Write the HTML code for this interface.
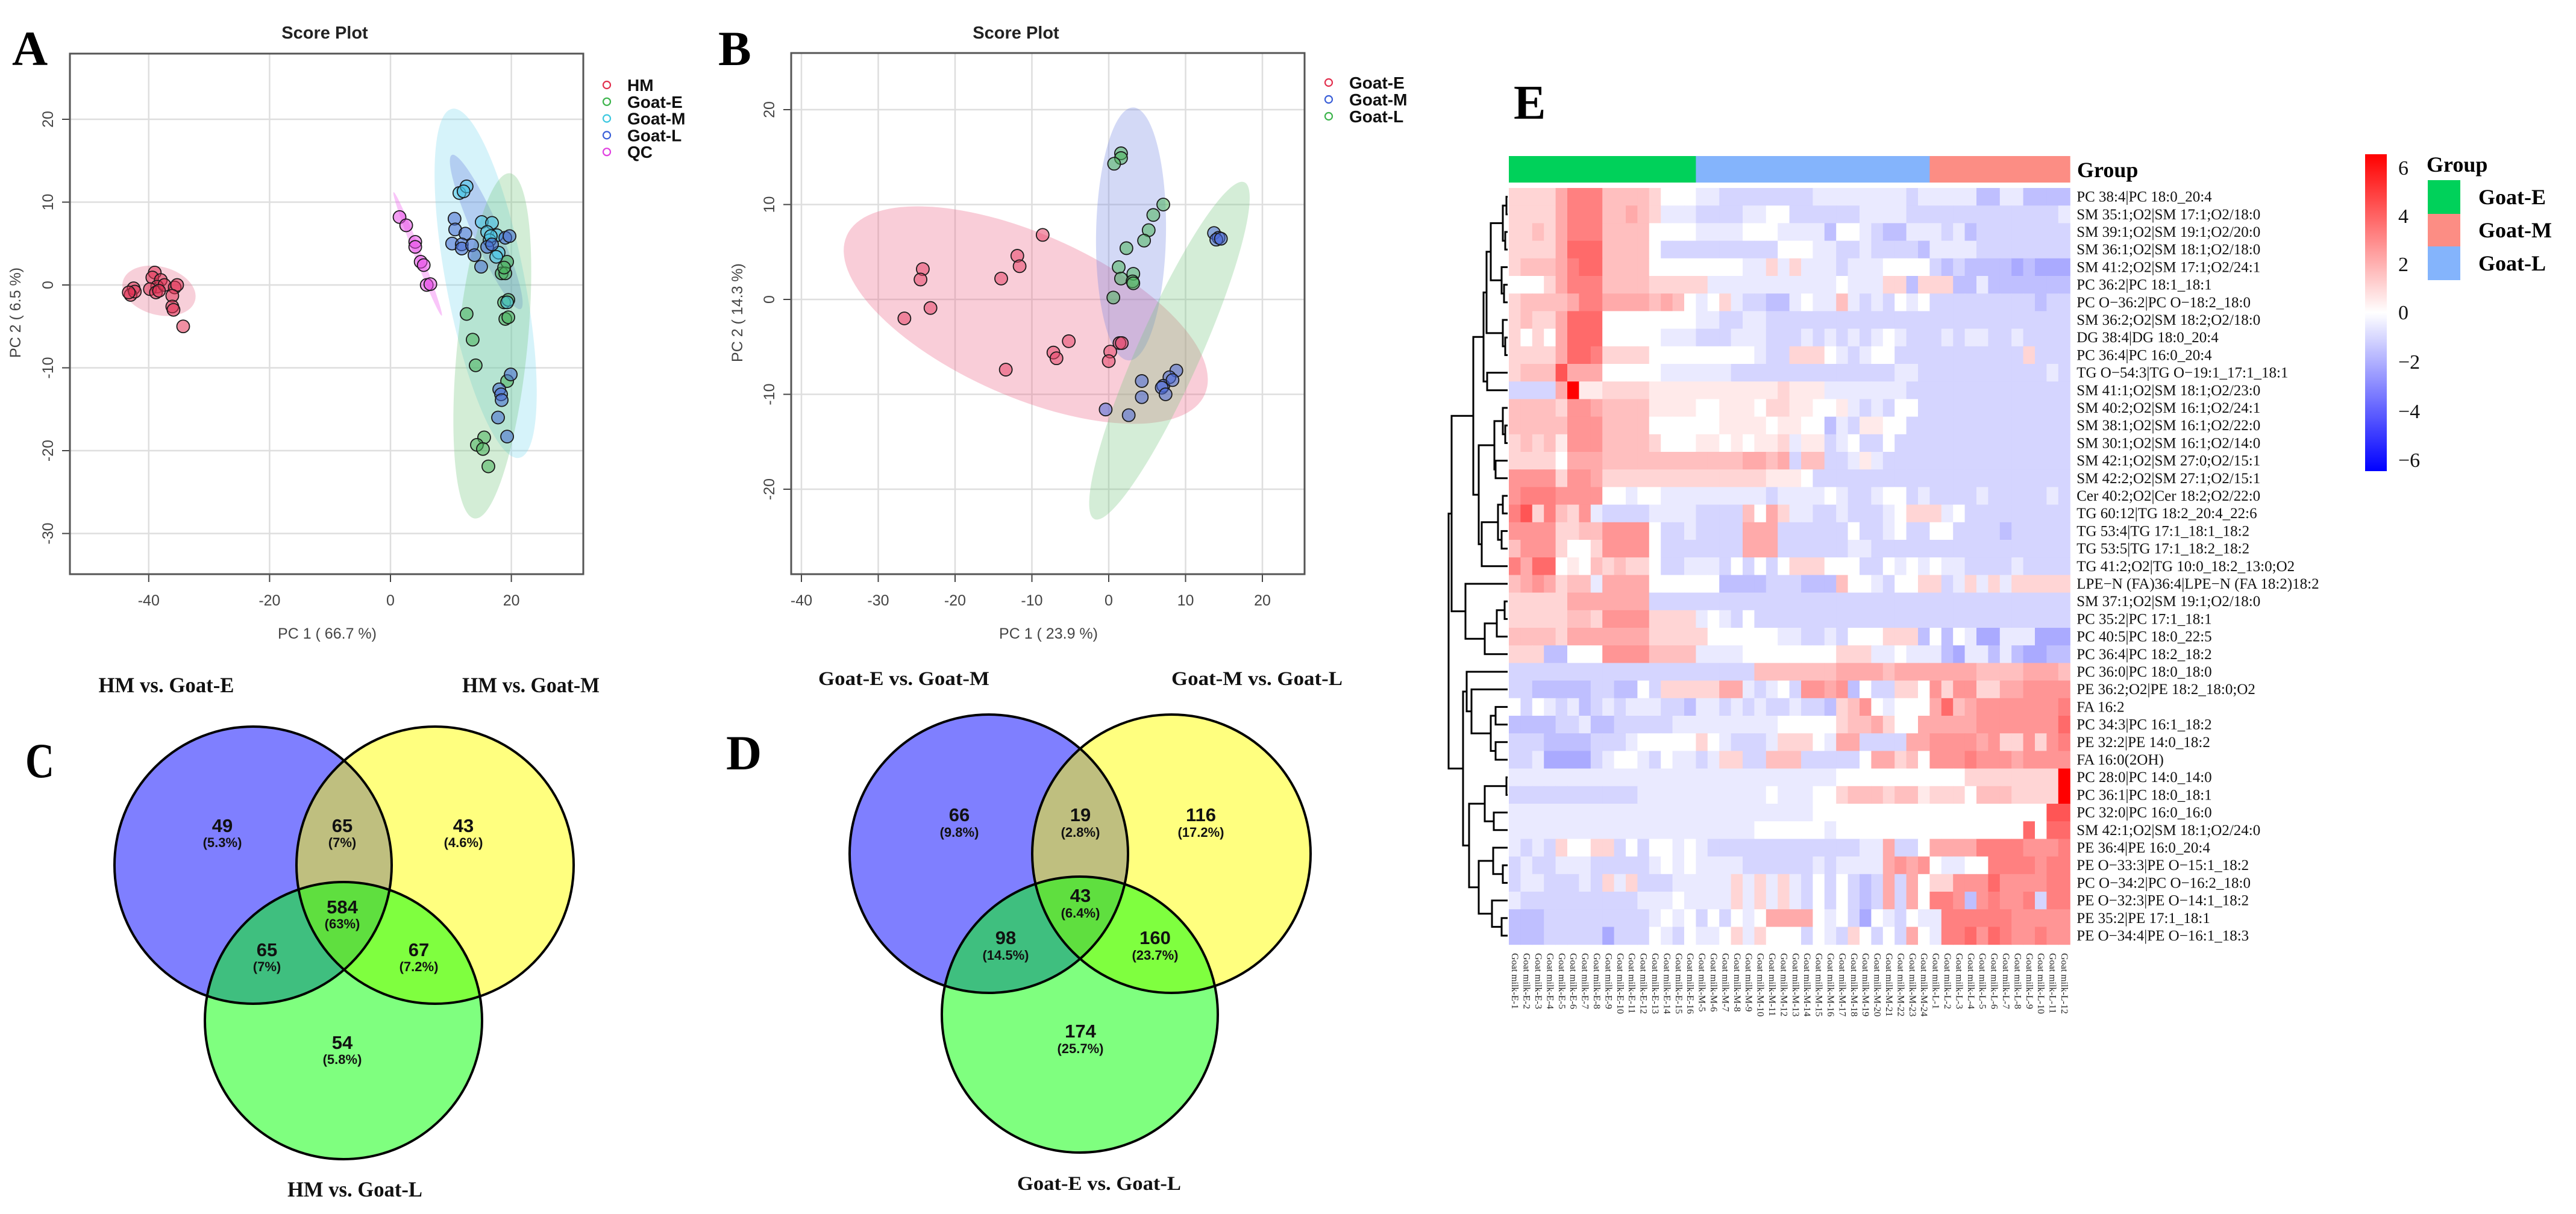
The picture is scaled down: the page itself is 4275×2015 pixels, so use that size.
<!DOCTYPE html>
<html><head><meta charset="utf-8"><style>
html,body{margin:0;padding:0;background:#fff;}
svg{display:block;font-family:"Liberation Sans",sans-serif;}
.serif{font-family:"Liberation Serif",serif;}
</style></head><body>
<svg id="fig" width="4275" height="2015" viewBox="0 0 4275 2015" xmlns="http://www.w3.org/2000/svg">
<defs>
<linearGradient id="cbar" x1="0" y1="0" x2="0" y2="1">
<stop offset="0" stop-color="#ff0000"/><stop offset="0.5" stop-color="#ffffff"/><stop offset="1" stop-color="#0000ff"/>
</linearGradient>
</defs>
<rect x="0" y="0" width="4275" height="2015" fill="#fff"/>
<!-- Panel letters -->
<text x="20" y="108" class="serif" font-size="82" font-weight="bold">A</text>
<text x="1192" y="108" class="serif" font-size="82" font-weight="bold">B</text>
<text x="42" y="1290" class="serif" font-size="82" font-weight="bold" textLength="48" lengthAdjust="spacingAndGlyphs">C</text>
<text x="1205" y="1277" class="serif" font-size="82" font-weight="bold">D</text>
<text x="2512" y="197" class="serif" font-size="80" font-weight="bold">E</text>
<!-- titles -->
<text x="539" y="64" font-size="29" font-weight="bold" text-anchor="middle" fill="#222">Score Plot</text>
<text x="1686" y="64" font-size="29" font-weight="bold" text-anchor="middle" fill="#222">Score Plot</text>
<text x="543" y="1060" font-size="25" text-anchor="middle" fill="#444">PC 1 ( 66.7 %)</text>
<text x="1740" y="1060" font-size="25" text-anchor="middle" fill="#444">PC 1 ( 23.9 %)</text>
<text x="0" y="0" font-size="25" text-anchor="middle" fill="#444" transform="translate(34,519) rotate(-90)">PC 2 ( 6.5 %)</text>
<text x="0" y="0" font-size="25" text-anchor="middle" fill="#444" transform="translate(1232,519) rotate(-90)">PC 2 ( 14.3 %)</text>
<g id="plotA"></g>
<g id="plotB"></g>

<!-- Venn C -->
<g>
<circle cx="420" cy="1436" r="230" fill="#0000ff" fill-opacity="0.5"/>
<circle cx="722" cy="1436" r="230" fill="#ffff00" fill-opacity="0.5"/>
<circle cx="570" cy="1694" r="230" fill="#00ff00" fill-opacity="0.5"/>
<g fill="none" stroke="#000" stroke-width="4">
<circle cx="420" cy="1436" r="230"/><circle cx="722" cy="1436" r="230"/><circle cx="570" cy="1694" r="230"/>
</g>
<g class="serif" font-size="36" font-weight="bold" text-anchor="middle" fill="#111">
<text x="276" y="1149" textLength="225" lengthAdjust="spacingAndGlyphs">HM vs. Goat-E</text>
<text x="881" y="1149" textLength="228" lengthAdjust="spacingAndGlyphs">HM vs. Goat-M</text>
<text x="589" y="1986" textLength="224" lengthAdjust="spacingAndGlyphs">HM vs. Goat-L</text>
</g>
<g font-weight="bold" text-anchor="middle" fill="#111">
<g font-size="31"><text x="369" y="1381">49</text><text x="568" y="1381">65</text><text x="769" y="1381">43</text><text x="568" y="1516">584</text><text x="443" y="1587">65</text><text x="695" y="1587">67</text><text x="568" y="1741">54</text></g>
<g font-size="22"><text x="369" y="1406">(5.3%)</text><text x="568" y="1406">(7%)</text><text x="769" y="1406">(4.6%)</text><text x="568" y="1541">(63%)</text><text x="443" y="1612">(7%)</text><text x="695" y="1612">(7.2%)</text><text x="568" y="1766">(5.8%)</text></g>
</g>
</g>

<!-- Venn D -->
<g>
<circle cx="1641" cy="1417" r="231" fill="#0000ff" fill-opacity="0.5"/>
<circle cx="1944" cy="1417" r="231" fill="#ffff00" fill-opacity="0.5"/>
<circle cx="1792" cy="1684" r="229" fill="#00ff00" fill-opacity="0.5"/>
<g fill="none" stroke="#000" stroke-width="4">
<circle cx="1641" cy="1417" r="231"/><circle cx="1944" cy="1417" r="231"/><circle cx="1792" cy="1684" r="229"/>
</g>
<g class="serif" font-size="33" font-weight="bold" text-anchor="middle" fill="#111">
<text x="1500" y="1137" textLength="284" lengthAdjust="spacingAndGlyphs">Goat-E vs. Goat-M</text>
<text x="2086" y="1137" textLength="284" lengthAdjust="spacingAndGlyphs">Goat-M vs. Goat-L</text>
<text x="1824" y="1975" textLength="272" lengthAdjust="spacingAndGlyphs">Goat-E vs. Goat-L</text>
</g>
<g font-weight="bold" text-anchor="middle" fill="#111">
<g font-size="31"><text x="1592" y="1363">66</text><text x="1793" y="1363">19</text><text x="1993" y="1363">116</text><text x="1793" y="1497">43</text><text x="1669" y="1567">98</text><text x="1917" y="1567">160</text><text x="1793" y="1722">174</text></g>
<g font-size="22"><text x="1592" y="1389">(9.8%)</text><text x="1793" y="1389">(2.8%)</text><text x="1993" y="1389">(17.2%)</text><text x="1793" y="1523">(6.4%)</text><text x="1669" y="1593">(14.5%)</text><text x="1917" y="1593">(23.7%)</text><text x="1793" y="1748">(25.7%)</text></g>
</g>
</g>

<g id="heat"></g>

<!-- color bar legend -->
<rect x="3925" y="256" width="36" height="526" fill="url(#cbar)"/>
<g class="serif" font-size="34" fill="#111">
<text x="3980" y="290">6</text><text x="3980" y="370">4</text><text x="3980" y="450">2</text><text x="3980" y="530">0</text><text x="3980" y="612">−2</text><text x="3980" y="694">−4</text><text x="3980" y="775">−6</text>
</g>
<text x="4027" y="285" class="serif" font-size="36" font-weight="bold">Group</text>
<rect x="4029" y="299" width="54" height="56" fill="#00d15a"/>
<rect x="4029" y="355" width="54" height="54" fill="#fc8d84"/>
<rect x="4029" y="409" width="54" height="56" fill="#84b4fc"/>
<g class="serif" font-size="36" font-weight="bold">
<text x="4113" y="339">Goat-E</text>
<text x="4113" y="394">Goat-M</text>
<text x="4113" y="449">Goat-L</text>
</g>
<text x="3447" y="294" class="serif" font-size="36" font-weight="bold">Group</text>
</svg>
<script>
// ===== Panel A data (PC1, PC2) =====
const aHM_x = [-39.0,-39.4,-38.0,-38.6,-39.8,-38.8,-37.4,-35.7,-35.3,-42.5,-43.0,-42.3,-36.1,-36.1,-35.9,-34.3,-38.3,-43.3];
const aHM_y = [1.5,0.9,0.6,-0.2,-0.5,-0.9,0,-0.3,0,-0.4,-1.2,-0.8,-1.3,-2.6,-3.0,-5.0,-0.7,-0.9];
const aQC_x = [1.5,2.6,4.1,4.1,5.0,5.5,6.0,6.6];
const aQC_y = [8.2,7.2,5.2,4.6,2.8,2.4,0,0.1];
const aE_x = [12.6,13.6,14.1,19.0,19.5,18.8,19.3,18.4,19.0,19.3,15.5,14.3,15.3,16.2,19.5,18.8];
const aE_y = [-3.5,-6.6,-9.7,-4.1,-3.9,-2.1,2.8,1.4,1.4,-11.6,-18.4,-19.3,-19.8,-21.9,-1.8,2.1];
const aM_x = [11.4,12.6,12.1,15.1,16.8,16.0,17.6,16.4,17.9,17.5,19.3,16.6];
const aM_y = [11.1,11.9,11.3,7.6,7.5,6.4,6.0,5.4,3.9,3.4,-2.1,5.9];
const aL_x = [10.6,10.7,12.4,10.2,11.8,11.8,13.5,13.9,15.0,16.0,16.8,19.0,19.7,19.9,18.0,18.3,18.4,17.8,19.3];
const aL_y = [8.0,6.7,6.2,5.0,4.9,4.4,4.8,3.6,2.2,4.6,4.9,5.7,5.9,-10.8,-12.6,-13.2,-13.9,-16.0,-18.3];
const aXTicks = [-40,-20,0,20];
const aYTicks = [-30,-20,-10,0,10,20];
// ===== Panel B data =====
const bE_x = [-24.2,-24.5,-23.2,-26.6,-14.0,-11.9,-11.6,-8.6,-5.2,-7.2,-6.8,-13.4,0.2,0,1.4,1.7];
const bE_y = [3.2,2.1,-0.9,-2.0,2.2,4.6,3.5,6.8,-4.4,-5.6,-6.2,-7.4,-5.5,-6.5,-4.6,-4.6];
const bM_x = [13.7,14.3,14.0,14.6,8.8,7.9,7.1,6.9,7.4,8.3,4.3,4.3,-0.4,2.6];
const bM_y = [7.0,6.5,6.3,6.4,-7.5,-8.2,-9.1,-9.3,-10.0,-8.5,-8.6,-10.3,-11.6,-12.2];
const bL_x = [1.6,1.6,0.7,7.1,5.8,5.2,4.6,2.3,1.3,1.6,3.2,3.1,3.2,0.6];
const bL_y = [15.4,14.9,14.3,10.0,8.9,7.3,6.2,5.4,3.4,2.2,2.7,1.9,1.7,0.2];
const bXTicks = [-40,-30,-20,-10,0,10,20];
const bYTicks = [-20,-10,0,10,20];

const NS = "http://www.w3.org/2000/svg";
function mk(tag, attrs, parent){ const e=document.createElementNS(NS,tag); for(const k in attrs) e.setAttribute(k,attrs[k]); parent.appendChild(e); return e; }

function scorePlot(g, box, sx, sy, xt, yt, ellipses, groups, legend){
  for(const t of xt){
    const l=mk('line',{x1:sx(t),x2:sx(t),y1:box.t,y2:box.b,stroke:'#dedede','stroke-width':2.5},g);
    
    
    const tk=mk('line',{x1:sx(t),x2:sx(t),y1:box.b,y2:box.b+13,stroke:'#444','stroke-width':2},g);
    
    
    const tx=mk('text',{x:sx(t),y:box.b+52,'text-anchor':'middle','font-size':25,fill:'#444'},g);
    tx.textContent=t;
    
    
  }
  for(const t of yt){
    const l=mk('line',{x1:box.l,x2:box.r,y1:sy(t),y2:sy(t),stroke:'#dedede','stroke-width':2.5},g);
    
    
    const tk=mk('line',{x1:box.l-13,x2:box.l,y1:sy(t),y2:sy(t),stroke:'#444','stroke-width':2},g);
    
    
    const tx=mk('text',{x:0,y:0,'text-anchor':'middle','font-size':25,fill:'#444',transform:`translate(${box.l-28},${sy(t)}) rotate(-90)`},g);
    tx.textContent=t;
    
    
  }
  for(const e of ellipses){
    const el=mk('ellipse',{cx:0,cy:0,rx:e.rx,ry:e.ry,fill:e.fill,transform:`translate(${sx(e.cx)},${sy(e.cy)}) rotate(${e.rot})`},g);
    
    
  }
  for(const gr of groups){
    for(let i=0;i<gr.x.length;i++){
      const c=mk('circle',{cx:sx(gr.x[i]),cy:sy(gr.y[i]),r:10.5,fill:gr.col,'fill-opacity':0.55,stroke:'#1a1a1a','stroke-width':1.8},g);
      
      
    }
  }
  const bx=mk('rect',{x:box.l,y:box.t,width:box.r-box.l,height:box.b-box.t,fill:'none',stroke:'#555','stroke-width':3},g);
  
  
  legend.items.forEach((it,i)=>{
    const y=legend.y+i*legend.dy;
    const c=mk('circle',{cx:legend.x,cy:y,r:6,fill:'none',stroke:it.col,'stroke-width':2.2},g);
    
    
    const t=mk('text',{x:legend.x+34,y:y+10,'font-size':28,'font-weight':'bold',fill:'#111'},g);
    t.textContent=it.label;
    
    
  });
}
const axA=x=>648+x*10.03, ayA=y=>473-y*13.75;
scorePlot(document.getElementById('plotA'),{l:116,t:89,r:968,b:953},axA,ayA,aXTicks,aYTicks,[
  {name:'hm',cx:-38.3,cy:-0.7,rx:62,ry:40,rot:15,fill:'rgba(232,110,140,0.33)'},
  {name:'qc',cx:4.5,cy:3.75,rx:110,ry:6,rot:68.7,fill:'rgba(240,110,240,0.4)'},
  {name:'goat-m',cx:15.75,cy:0.2,rx:65,ry:295,rot:-10.9,fill:'rgba(120,215,240,0.3)'},
  {name:'goat-l',cx:15.85,cy:6.4,rx:22,ry:140,rot:-24,fill:'rgba(90,110,220,0.28)'},
  {name:'goat-e',cx:16.85,cy:-7.35,rx:58,ry:288,rot:5.8,fill:'rgba(110,195,120,0.3)'}
],[
  {name:'hm',x:aHM_x,y:aHM_y,col:'#e23356'},
  {name:'qc',x:aQC_x,y:aQC_y,col:'#e84fe8'},
  {name:'goat-e',x:aE_x,y:aE_y,col:'#47b059'},
  {name:'goat-m',x:aM_x,y:aM_y,col:'#48c6e8'},
  {name:'goat-l',x:aL_x,y:aL_y,col:'#4468d0'}
],{x:1007,y:141,dy:27.8,items:[
  {name:'hm',label:'HM',col:'#e2304e'},{name:'goat-e',label:'Goat-E',col:'#3cb44b'},
  {name:'goat-m',label:'Goat-M',col:'#3cc8e0'},{name:'goat-l',label:'Goat-L',col:'#3a5fd8'},
  {name:'qc',label:'QC',col:'#e040e0'}]});

const axB=x=>1840+x*12.75, ayB=y=>497-y*15.75;
scorePlot(document.getElementById('plotB'),{l:1313,t:88,r:2165,b:953},axB,ayB,bXTicks,bYTicks,[
  {name:'goat-e',cx:-10.8,cy:-1.65,rx:325,ry:135,rot:23.9,fill:'rgba(235,100,135,0.32)'},
  {name:'goat-m',cx:2.9,cy:6.9,rx:58,ry:210,rot:1,fill:'rgba(110,130,225,0.3)'},
  {name:'goat-l',cx:7.9,cy:-5.4,rx:52,ry:306,rot:24,fill:'rgba(120,200,130,0.32)'}
],[
  {name:'goat-e',x:bE_x,y:bE_y,col:'#e8466a'},
  {name:'goat-m',x:bM_x,y:bM_y,col:'#4a6ad8'},
  {name:'goat-l',x:bL_x,y:bL_y,col:'#4cb45c'}
],{x:2205,y:137,dy:28,items:[
  {name:'goat-e',label:'Goat-E',col:'#e2304e'},{name:'goat-m',label:'Goat-M',col:'#3a5fd8'},{name:'goat-l',label:'Goat-L',col:'#3cb44b'}]});

// ===== Heatmap data =====
// value code: a=-3 b=-2.5 c=-2 d=-1.5 e=-1 f=-0.5 0=0 1=0.5 2=1 3=1.5 4=2 5=2.5 6=3 7=3.5 8=4 9=6
const heatRowLabels = ["PC 38:4|PC 18:0_20:4","SM 35:1;O2|SM 17:1;O2/18:0","SM 39:1;O2|SM 19:1;O2/20:0","SM 36:1;O2|SM 18:1;O2/18:0","SM 41:2;O2|SM 17:1;O2/24:1","PC 36:2|PC 18:1_18:1","PC O−36:2|PC O−18:2_18:0","SM 36:2;O2|SM 18:2;O2/18:0","DG 38:4|DG 18:0_20:4","PC 36:4|PC 16:0_20:4","TG O−54:3|TG O−19:1_17:1_18:1","SM 41:1;O2|SM 18:1;O2/23:0","SM 40:2;O2|SM 16:1;O2/24:1","SM 38:1;O2|SM 16:1;O2/22:0","SM 30:1;O2|SM 16:1;O2/14:0","SM 42:1;O2|SM 27:0;O2/15:1","SM 42:2;O2|SM 27:1;O2/15:1","Cer 40:2;O2|Cer 18:2;O2/22:0","TG 60:12|TG 18:2_20:4_22:6","TG 53:4|TG 17:1_18:1_18:2","TG 53:5|TG 17:1_18:2_18:2","TG 41:2;O2|TG 10:0_18:2_13:0;O2","LPE−N (FA)36:4|LPE−N (FA 18:2)18:2","SM 37:1;O2|SM 19:1;O2/18:0","PC 35:2|PC 17:1_18:1","PC 40:5|PC 18:0_22:5","PC 36:4|PC 18:2_18:2","PC 36:0|PC 18:0_18:0","PE 36:2;O2|PE 18:2_18:0;O2","FA 16:2","PC 34:3|PC 16:1_18:2","PE 32:2|PE 14:0_18:2","FA 16:0(2OH)","PC 28:0|PC 14:0_14:0","PC 36:1|PC 18:0_18:1","PC 32:0|PC 16:0_16:0","SM 42:1;O2|SM 18:1;O2/24:0","PE 36:4|PE 16:0_20:4","PE O−33:3|PE O−15:1_18:2","PC O−34:2|PC O−16:2_18:0","PE O−32:3|PE O−14:1_18:2","PE 35:2|PE 17:1_18:1","PE O−34:4|PE O−16:1_18:3"];
const heatGroupE = ["2222466633332000","2222466633432fff","2232466633330000","2222477733330eee","2333467733330000","0002466633332222","2333346644443430","2322477700000000","2020477700000fff","2222477622220000","2333844400000fff","eeee491122221111","3333255433331111","3333355533330000","2323155533332000","2222044433333333","5555255422222222","5666555500f00fff","6826325feeeeffff","5555223355550eef","3555200255550eee","6477010323220eef","3454233f44440000","222224444444eeee","2222233255552222","3333244444442222","222dd00055553333","eeeeeeeeeeeeeeee","eedddddeedd0e222","0e0fefdefefffeed","ddddeefddeeeeeff","eeeddddeeef00000","eefccccef00fe0ff","ffffffffffffffff","eeeeeeeeeeefffff","ffffffffffffffff","ffffffffffffffff","fefe20022e0e00f0","efeefffeeeeef0f0","effeeefe2f2eeeff","feeeeeeeeeefff0f","dddeeeeeeeeef0f0","dddeeeeeceee0fe0"];
const heatGroupM = ["ffeeeeeeeeffffffffef","eeeeff00eeeeeeffffee","ffff000ffffd00feddff","eeeeeee000ffeefeeeed","0000ff2f2fffefff0000","2fffffffffff0fff22d2","f02feeddf0ff3fefe0f0","ffeeffeeeeeeeeeeeeee","eeefffeeefefefef0fee","00000fee2220fef00eee","fffeeeeeeeeeeeeeeffe","11111112111fffffffee","0011102211001fefe00e","00111101100dfe1100ee","11010112f11ef0ee0eee","33334434e33eef1feeee","2222221110eeeeeeeeee","ffffffeffff0feef00ef","eeee3042ffeefeeef022","eeee444eeeeee0eef0ee","eeee444eeeeeeffeeeee","ffe0e0e0222000ee0f0f","00ddddeeeddd300fe002","eeeeeeeeeeeeeeeeeeee","f0fe0eeeeeeeeeeeeeee","2000000ffeefe000222d","ffff00000000222ff0ff","eeeee333333344443444","2244fef0e5545d0ee220","ffefefeefeed2350f000","fffffff0000023342004","20feeef2220f44eeee44","ef22ee333eeeee044230","ffffffffffff00000000","ffffff0fff0023332331","ffffffffff0000000000","fffff000000f00000000","feeeeeeeeeeeeeff4ee0","ffffeeeeeefeffff4545","fff2f2f2fe0e0ede4e40","fff2f2f2fe0e0ede4e40","e0e0f044440f0ec0fe0f","ff02f2000e0fe20e0e40"];
const heatGroupL = ["ffffddffdddd","eeeeeeeeeeef","fefdeeeeeeee","ffffeeeeeeee","ededdddcdccc","22ddfddddddd","eeeeeeeeedee","eeeeeeeeeeee","efeffeefeeee","eeeeeeee2eee","eeeeeeeeeefe","eeeeeeeeeeee","eeeeeeeeeeee","eeeeeeeeeeee","eeeeeeeeeeee","eeeeeeeeeeee","eeeeeeeeeeee","eeeefeeeeefe","2f0eeeeeeeee","00eeeedeeeee","eeeeeeeeeeee","0ffeeeefeeee","2ef2f2f22222","eeeeeeeeeeee","eeeeeeeeeeee","0d0fccfffccc","fdcffdfdccdd","444433334443","525522445555","473455555556","444455555557","555545225256","555655545555","000222222229","222033322229","000000000088","000000007077","444466665556","0ff006666566","225557555566","665d56556e66","f66666655555","f66757655655"];
const heatColLabels = [];
for(let i=1;i<=16;i++) heatColLabels.push('Goat milk-E-'+i);
for(let i=5;i<=24;i++) heatColLabels.push('Goat milk-M-'+i);
for(let i=1;i<=12;i++) heatColLabels.push('Goat milk-L-'+i);
const heatGroupCounts = [16,20,12];
const heatGroupColors = ['#00d15a','#84b4fc','#fc8d84'];
const codeMap = {a:-3,b:-2.5,c:-2,d:-1.5,e:-1,f:-0.5,'0':0,'1':0.5,'2':1,'3':1.5,'4':2,'5':2.5,'6':3,'7':3.5,'8':4,'9':6};
// dendrogram: heights in px left of heatmap
const dendroTree = {h:100,c:[
 {h:95,c:[
  {h:59,c:[
   {h:42,c:[{h:37,c:[{h:30,c:[{h:10,c:[{h:4,c:[0,1]},{h:6,c:[2,3]}]},{h:12,c:[4,{h:8,c:[5,6]}]}]},{h:10,c:[7,{h:6,c:[8,9]}]}]},{h:36,c:[10,11]}]},
   {h:50,c:[{h:24,c:[{h:10,c:[12,{h:6,c:[13,14]}]},{h:22,c:[15,16]}]},{h:45,c:[{h:18,c:[{h:10,c:[17,18]},{h:12,c:[19,20]}]},21]}]}
  ]},
  {h:72,c:[22,{h:40,c:[{h:20,c:[{h:7,c:[23,24]},25]},26]}]}
 ]},
 {h:76,c:[
  {h:70,c:[27,{h:62,c:[28,{h:30,c:[{h:22,c:[29,30]},{h:22,c:[31,32]}]}]}]},
  {h:66,c:[{h:40,c:[{h:4,c:[33,34]},{h:25,c:[35,36]}]},{h:50,c:[{h:26,c:[37,{h:10,c:[38,39]}]},{h:28,c:[40,{h:12,c:[41,42]}]}]}]}
 ]}
]};

(function(){
  const g=document.getElementById('heat');
  const X0=2504, Y0=312, CW=19.4, RH=29.2;
  const colX=i=>X0+i*CW, rowY=r=>Y0+r*RH;
  function color(v){
    const t=Math.min(1,Math.abs(v)/6);
    const k=Math.round(255*(1-t));
    return v>=0?`rgb(255,${k},${k})`:`rgb(${k},${k},255)`;
  }
  // group bar
  let c0=0;
  heatGroupCounts.forEach((n,gi)=>{
    const r=mk('rect',{x:colX(c0),y:259,width:n*CW+0.5,height:44,fill:heatGroupColors[gi]},g);
    
    
    c0+=n;
  });
  const nCols=heatGroupCounts.reduce((a,b)=>a+b,0);
  for(let r=0;r<heatRowLabels.length;r++){
    const s=((heatGroupE[r]||'')+'0'.repeat(16)).slice(0,16)+((heatGroupM[r]||'')+'0'.repeat(20)).slice(0,20)+((heatGroupL[r]||'')+'0'.repeat(12)).slice(0,12);
    for(let c=0;c<nCols;c++){
      const v=codeMap[s[c]]!==undefined?codeMap[s[c]]:0;
      const cell=mk('rect',{x:colX(c),y:rowY(r),width:CW+0.6,height:RH+0.6,fill:color(v)},g);
      
      
    }
    const t=mk('text',{x:colX(nCols)+11,y:rowY(r)+RH/2+8,'font-size':25,'font-family':'Liberation Serif, serif',fill:'#111'},g);
    t.textContent=heatRowLabels[r];
    
    
  }
  for(let c=0;c<nCols;c++){
    const x=colX(c)+CW/2, y=1582;
    const t=mk('text',{x:x,y:y,'font-size':16,'font-family':'Liberation Serif, serif','dominant-baseline':'central',fill:'#222',transform:`rotate(90,${x},${y})`},g);
    t.textContent=heatColLabels[c];
    
    
  }
  // dendrogram
  function draw(node){
    if(typeof node==='number') return {x:X0-2, y:rowY(node)+RH/2};
    const pts=node.c.map(draw);
    const nx=X0-node.h;
    const ys=pts.map(p=>p.y);
    const v=mk('line',{x1:nx,x2:nx,y1:Math.min(...ys),y2:Math.max(...ys),stroke:'#000','stroke-width':3},g);
    
    
    pts.forEach(p=>{
      const h=mk('line',{x1:nx-1.5,x2:p.x,y1:p.y,y2:p.y,stroke:'#000','stroke-width':3},g);
      
      
    });
    return {x:nx, y:(Math.min(...ys)+Math.max(...ys))/2};
  }
  draw(dendroTree);
})();
</script>
</body></html>
